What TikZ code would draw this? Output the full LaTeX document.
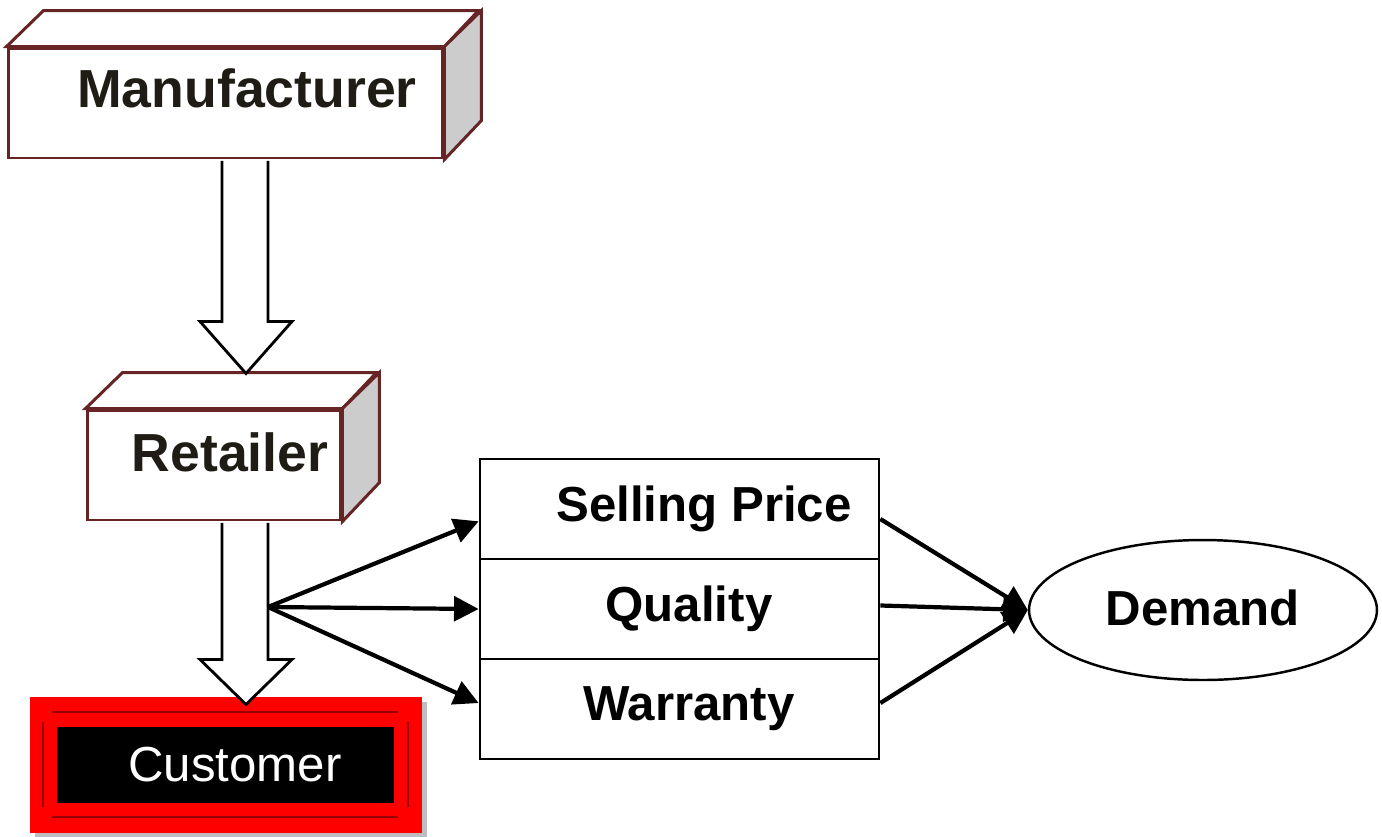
\documentclass[tikz,border=0pt]{standalone}
\usepackage{fontspec}
\setmainfont{Liberation Sans}
\usetikzlibrary{arrows.meta,shapes.geometric}
\definecolor{boxedge}{RGB}{102,36,36}
\definecolor{sideface}{RGB}{204,204,204}
\definecolor{inkblack}{RGB}{30,28,20}
\definecolor{framered}{RGB}{150,0,0}
\definecolor{shadowgray}{RGB}{190,190,190}
\tikzset{
  crate/.style={draw=boxedge,line width=1.7pt,fill=white,text=inkblack,inner sep=0pt,minimum height=2.2cm,font=\fontsize{30.5}{36}\selectfont\bfseries},
  face/.style={draw=boxedge,line width=1.7pt,line join=miter},
  hollow/.style={draw=black,line width=1.6pt,fill=white},
  part/.style={draw=black,line width=1.6pt,inner sep=0pt,minimum width=7.98cm,minimum height=2cm,font=\fontsize{28}{34}\selectfont\bfseries},
  fan/.style={line width=2.4pt,-{Triangle[length=14pt,width=14pt]}},
}

\begin{document}
\begin{tikzpicture}[x=0.02cm,y=-0.02cm]
    \useasboundingbox (0,0) rectangle (1382,836);

    % manufacturer crate
    \node[crate,minimum width=8.7cm,text depth=0.6cm] (man) at (225.5,103) {\hspace*{0.86cm}Manufacturer};
    \draw[face,fill=white] (man.north west) -- ++(37,-36) -- ++(435,0) -- (man.north east) -- cycle;
    \draw[face,fill=sideface] (man.north east) -- ++(37,-36) -- ++(0,110) -- (man.south east) -- cycle;

    % retailer crate
    \node[crate,minimum width=5.08cm,text depth=0.52cm] (ret) at (214,465) {\hspace*{0.64cm}Retailer};
    \draw[face,fill=white] (ret.north west) -- ++(37,-36) -- ++(254,0) -- (ret.north east) -- cycle;
    \draw[face,fill=sideface] (ret.north east) -- ++(37,-36) -- ++(0,110) -- (ret.south east) -- cycle;

    % customer
    \fill[shadowgray] (35,702) rectangle (427,838);
    \fill[red] (30,697) rectangle (422,833);
    \draw[framered,line width=1.2pt] (52,712) -- (398,712) (52,817) -- (398,817)
        (43,722) -- (43,807) (408,722) -- (408,807);
    \node[fill=black,text=white,inner sep=0pt,minimum width=6.74cm,minimum height=1.52cm,
        font=\fontsize{28}{34}\selectfont] (cus) at (225.5,765) {\hspace*{0.38cm}\raisebox{-1.6pt}{Customer}};

    % attributes
    \node[part] (sp) at (679.5,509) {\hspace*{0.98cm}\raisebox{-2.2pt}{Selling Price}};
    \node[part] (qu) at (679.5,609) {\hspace*{0.38cm}\raisebox{-1.1pt}{Quality}};
    \node[part] (wa) at (679.5,709) {\hspace*{0.38cm}\raisebox{-1.1pt}{Warranty}};

    \node[ellipse,draw,line width=1.4pt,inner sep=0pt,minimum width=6.96cm,minimum height=2.8cm,
        font=\fontsize{28}{34}\selectfont\bfseries] (dem) at (1203,610) {\raisebox{2.2pt}{Demand}};

    % hollow arrows
    \draw[hollow] (man.south) ++(-3.5,1.4) -- ++(0,160.6) -- ++(-22,0) -- ++(46,52) -- ++(46,-52) -- ++(-24,0) -- ++(0,-160.6);
    \draw[hollow] (ret.south) ++(8,1.4) -- ++(0,136.6) -- ++(-22,0) -- ++(46,45) -- ++(46,-45) -- ++(-24,0) -- ++(0,-136.6);

    \coordinate (fork) at (268,607);
    \draw[fan] (fork) -- ([yshift=-7pt]sp.west);
    \draw[fan] (fork) -- (qu.west);
    \draw[fan] (fork) -- ([yshift=3.4pt]wa.west);

    \draw[fan] ([yshift=-5.7pt]sp.east) -- (dem.west);
    \draw[fan] ([yshift=2pt]qu.east) -- (dem.west);
    \draw[fan] ([yshift=3.4pt]wa.east) -- (dem.west);
\end{tikzpicture}
\end{document}
